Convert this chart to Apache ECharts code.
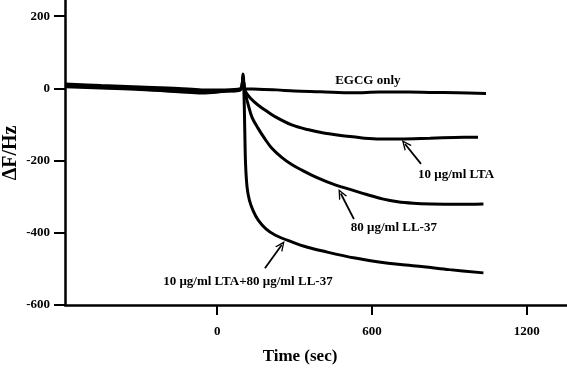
<!DOCTYPE html>
<html>
<head>
<meta charset="utf-8">
<script src="https://cdn.jsdelivr.net/npm/echarts@6/dist/echarts.min.js"></script>
<style>
  html, body { margin: 0; padding: 0; background: #fff; }
  #chart { width: 567px; height: 369px; }
</style>
</head>
<body>
<div id="chart"></div>
<script>
// QCM response curves, [time (sec), dF (Hz)]
var egcgOnly = [
  [-590, 12], [-450, 8], [-300, 4], [-150, 0], [-60, -4], [30, -4], [90, -1],
  [100, 30], [106, -1], [160, -2], [230, -4], [300, -7], [400, -9], [527, -12],
  [630, -10], [740, -10], [825, -11], [930, -12], [1042, -14]
];
var lta = [
  [-590, 9], [-450, 5], [-300, 1], [-150, -4], [-60, -8], [30, -6], [90, -2],
  [100, 25], [106, 0], [110, -9], [130, -28], [158, -46], [190, -62], [224, -78],
  [289, -101], [350, -114], [418, -124], [526, -134], [618, -140], [709, -140],
  [825, -138], [920, -136], [1011, -135]
];
var ll37 = [
  [-590, 7], [-450, 3], [-300, -1], [-150, -7], [-60, -11], [30, -7], [90, -3],
  [100, 28], [106, 0], [113, -25], [119, -42], [135, -80], [158, -110], [185, -140],
  [211, -165], [250, -191], [289, -211], [330, -227], [366, -240], [410, -254],
  [457, -267], [521, -281], [580, -294], [640, -306], [700, -314], [760, -318],
  [830, -320], [930, -321], [1032, -320]
];
var ltaLl37 = [
  [-590, 5], [-450, 1], [-300, -3], [-150, -9], [-60, -13], [30, -8], [90, -4],
  [100, 40], [104, -20], [107, -120], [110, -210], [116, -275], [125, -310],
  [140, -340], [159, -365], [190, -390], [224, -406], [289, -425], [350, -440],
  [418, -452], [534, -470], [620, -480], [710, -488], [800, -494], [900, -502],
  [1032, -511]
];

var xTicks = [0, 600, 1200];
var yTicks = [-600, -400, -200, 0, 200];

// annotation text [t, dF, label] and arrows [tail, head]
var notes = [
  [584, 21, "EGCG only"],
  [926, -240, "10 \u03bcg/ml LTA"],
  [685, -387, "80 \u03bcg/ml LL-37"],
  [119, -536, "10 \u03bcg/ml LTA+80 \u03bcg/ml LL-37"]
];
var arrows = [
  [[790, -209], [728, -154]],
  [[530, -362], [479, -291]],
  [[185, -498], [250, -434]]
];

var font = "Liberation Serif";
var chart = echarts.init(document.getElementById("chart"));

function curve(name, data) {
  return {
    name: name,
    type: "line",
    data: data,
    showSymbol: false,
    smooth: 0.35,
    lineStyle: { color: "#000", width: 3 },
    silent: true
  };
}

var series = [
  curve("EGCG only", egcgOnly),
  curve("10 ug/ml LTA", lta),
  curve("80 ug/ml LL-37", ll37),
  curve("10 ug/ml LTA+80 ug/ml LL-37", ltaLl37)
];

series[0].markPoint = {
  symbol: "circle",
  symbolSize: 0,
  silent: true,
  label: {
    show: true,
    position: "inside",
    color: "#000",
    fontFamily: font,
    fontWeight: "bold",
    fontSize: 13,
    formatter: function (p) { return p.name; }
  },
  data: notes.map(function (n) {
    return { name: n[2], coord: [n[0], n[1]] };
  })
};

series[0].markLine = {
  silent: true,
  symbol: ["none", "path://M0,10 L5,0 L10,10 L8.4,10 L5,3.2 L1.6,10 Z"],
  symbolSize: [9, 10],
  label: { show: false },
  lineStyle: { color: "#000", width: 1.8, type: "solid" },
  data: arrows.map(function (a) {
    return [{ coord: a[0] }, { coord: a[1] }];
  })
};

option = {
  animation: false,
  grid: { left: 65, right: 0, top: 0, bottom: 64, outerBoundsMode: "none" },
  // y axis title
  graphic: [
    {
      type: "text",
      x: 11,
      y: 153,
      rotation: Math.PI / 2,
      silent: true,
      style: {
        text: "\u0394F/Hz",
        align: "center",
        verticalAlign: "middle",
        fill: "#000",
        font: "bold 20px 'Liberation Serif'"
      }
    }
  ],
  xAxis: {
    type: "value",
    min: -590,
    max: 1356,
    name: "Time (sec)",
    nameLocation: "middle",
    nameGap: 43,
    nameTextStyle: {
      color: "#000",
      fontFamily: font,
      fontWeight: "bold",
      fontSize: 17,
      padding: [0, 32, 0, 0]
    },
    splitLine: { show: false },
    axisLine: { onZero: false, lineStyle: { color: "#000", width: 2.5 } },
    axisTick: {
      customValues: xTicks,
      length: 10,
      lineStyle: { color: "#000", width: 2 }
    },
    axisLabel: {
      customValues: xTicks,
      margin: 20,
      color: "#000",
      fontFamily: font,
      fontWeight: "bold",
      fontSize: 13,
      formatter: function (v) { return String(v); }
    }
  },
  yAxis: {
    type: "value",
    min: -600,
    max: 245,
    splitLine: { show: false },
    axisLine: { onZero: false, lineStyle: { color: "#000", width: 2.5 } },
    axisTick: {
      customValues: yTicks,
      length: 11,
      lineStyle: { color: "#000", width: 2 }
    },
    axisLabel: {
      customValues: yTicks,
      margin: 15,
      color: "#000",
      fontFamily: font,
      fontWeight: "bold",
      fontSize: 13,
      formatter: function (v) { return String(v); }
    }
  },
  series: series
};

chart.setOption(option);
</script>
</body>
</html>
